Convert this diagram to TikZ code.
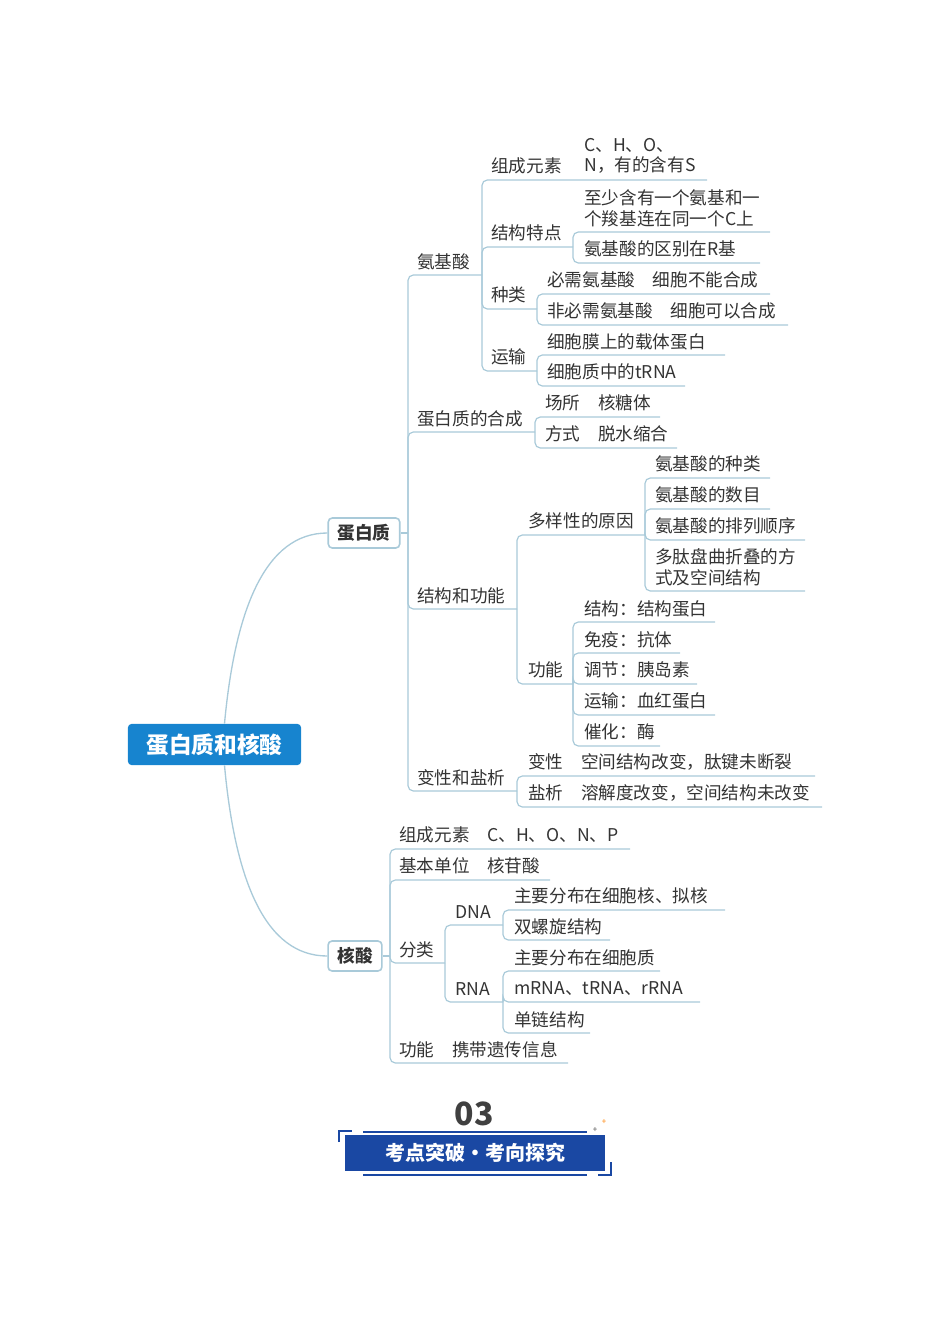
\documentclass[tikz,border=0pt]{standalone}
\usepackage{fontspec}
\setmainfont{Noto Sans CJK SC}
\begin{document}
\begin{tikzpicture}[x=0.75pt,y=-0.75pt,
  t/.style={anchor=west,inner sep=0pt,font=\fontsize{13.2pt}{15.5pt}\selectfont,text=black!80,align=left},
  ln/.style={draw=lineblue,line width=0.9pt,rounded corners=4pt},
  box/.style={draw=lineblue,line width=1.2pt,rounded corners=3pt,fill=white,font=\bfseries\fontsize{13.2pt}{15pt}\selectfont,text=black!80,minimum height=22.5pt,inner xsep=7pt}]
\definecolor{lineblue}{HTML}{A9CAD9}
\definecolor{rootblue}{HTML}{1784CF}
\definecolor{banblue}{HTML}{1A48A3}
\useasboundingbox (0,0) rectangle (950,1344);
\newcommand{\br}[4]{\draw[ln] (#1,#2) |- (#4,#3);}
\newcommand{\ul}[3]{\draw[ln] (#1,#2) -- (#3,#2);}
% root
\node[fill=rootblue,rounded corners=3pt,minimum width=130pt,minimum height=31pt,text=white,font=\bfseries\fontsize{17pt}{20pt}\selectfont] (root) at (214.5,744.5) {蛋白质和核酸};
\node[box] (pro) at (364,533) {蛋白质};
\node[box] (nuc) at (355,956) {核酸};
\draw[lineblue,line width=1pt] (root.north) ++(10,0) coordinate (r1) .. controls (235,610) and (265,533) .. (pro.west);
\draw[lineblue,line width=1pt] (root.south) ++(10,0) coordinate (r2) .. controls (235,880) and (265,956) .. (nuc.west);
\draw[ln] (pro.east) -- (408,533);
\draw[ln] (nuc.east) -- (390,956);
% protein level 1
\br{408}{533}{275}{482}\br{408}{533}{432}{535}\br{408}{533}{609}{517}\br{408}{533}{791}{517}
\node[t] (a) at (417,262) {氨基酸};
\node[t] (b) at (417,419) {蛋白质的合成};
\node[t] (c) at (417,596) {结构和功能};
\node[t] (d) at (417,778) {变性和盐析};
% 氨基酸
\br{482}{275}{180}{707}\br{482}{275}{247}{573}\br{482}{275}{309}{537}\br{482}{275}{371}{537}
\node[t] at (491,166) {组成元素};
\node[t] at (584,156) {C、H、O、\\N，有的含有S};
\node[t] at (491,233) {结构特点};
\br{573}{247}{232}{770}\br{573}{247}{263}{760}
\node[t] at (584,208) {至少含有一个氨基和一\\个羧基连在同一个C上};
\node[t] at (584,249) {氨基酸的区别在R基};
\node[t] at (491,295) {种类};
\br{537}{309}{294}{770}\br{537}{309}{325}{788}
\node[t] at (547,280) {必需氨基酸\quad 细胞不能合成};
\node[t] at (547,311) {非必需氨基酸\quad 细胞可以合成};
\node[t] at (491,357) {运输};
\br{537}{371}{355}{725}\br{537}{371}{386}{685}
\node[t] at (547,342) {细胞膜上的载体蛋白};
\node[t] at (547,372) {细胞质中的tRNA};
% 合成
\br{535}{432}{417}{660}\br{535}{432}{448}{677}
\node[t] at (545,403) {场所\quad 核糖体};
\node[t] at (545,434) {方式\quad 脱水缩合};
% 结构和功能
\br{517}{609}{535}{645}\br{517}{609}{684}{573}
\node[t] at (528,521) {多样性的原因};
\br{645}{535}{478}{770}\br{645}{535}{509}{770}\br{645}{535}{540}{805}\br{645}{535}{591}{805}
\node[t] at (655,464) {氨基酸的种类};
\node[t] at (655,495) {氨基酸的数目};
\node[t] at (655,526) {氨基酸的排列顺序};
\node[t] at (655,567) {多肽盘曲折叠的方\\式及空间结构};
\node[t] at (528,670) {功能};
\br{573}{684}{622}{715}\br{573}{684}{653}{680}\br{573}{684}{684}{697}\br{573}{684}{715}{715}\br{573}{684}{746}{660}
\node[t] at (584,609) {结构：结构蛋白};
\node[t] at (584,640) {免疫：抗体};
\node[t] at (584,670) {调节：胰岛素};
\node[t] at (584,701) {运输：血红蛋白};
\node[t] at (584,732) {催化：酶};
% 变性和盐析
\br{517}{791}{776}{815}\br{517}{791}{807}{822}
\node[t] at (528,762) {变性\quad 空间结构改变，肽键未断裂};
\node[t] at (528,793) {盐析\quad 溶解度改变，空间结构未改变};
% 核酸
\br{390}{956}{849}{630}\br{390}{956}{880}{550}\br{390}{956}{963}{445}\br{390}{956}{1063}{568}
\node[t] at (399,835) {组成元素\quad C、H、O、N、P};
\node[t] at (399,866) {基本单位\quad 核苷酸};
\node[t] at (399,950) {分类};
\node[t] at (399,1050) {功能\quad 携带遗传信息};
\br{445}{963}{925}{503}\br{445}{963}{1002}{503}
\node[t] at (455,912) {DNA};
\node[t] at (455,989) {RNA};
\br{503}{925}{910}{725}\br{503}{925}{940}{610}
\node[t] at (514,896) {主要分布在细胞核、拟核};
\node[t] at (514,927) {双螺旋结构};
\br{503}{1002}{971}{660}\br{503}{1002}{1002}{700}\br{503}{1002}{1033}{590}
\node[t] at (514,958) {主要分布在细胞质};
\node[t] at (514,989) {mRNA、tRNA、rRNA};
\node[t] at (514,1020) {单链结构};
% banner
\node[font=\bfseries\fontsize{24pt}{26pt}\selectfont,text=black!75] (n03) at (474,1114) {03};
\draw[banblue,line width=0.8pt] (363,1132) -- (587,1132);
\draw[banblue,line width=0.8pt] (363,1175) -- (587,1175);
\node[fill=banblue,minimum width=195pt,minimum height=27pt,text=white,font=\bfseries\fontsize{15pt}{18pt}\selectfont] (ban) at (475,1153) {考点突破•考向探究};
\draw[banblue,line width=1pt] (339,1142) -- (339,1131) -- (352,1131);
\draw[banblue,line width=1pt] (611,1162) -- (611,1175) -- (598,1175);
\node[text=black!70,font=\fontsize{6pt}{6pt}\selectfont,inner sep=0pt] (s1) at (595,1130) {+};
\node[text=orange,font=\fontsize{6pt}{6pt}\selectfont,inner sep=0pt] (s2) at (604,1122) {+};
\end{tikzpicture}
\end{document}
